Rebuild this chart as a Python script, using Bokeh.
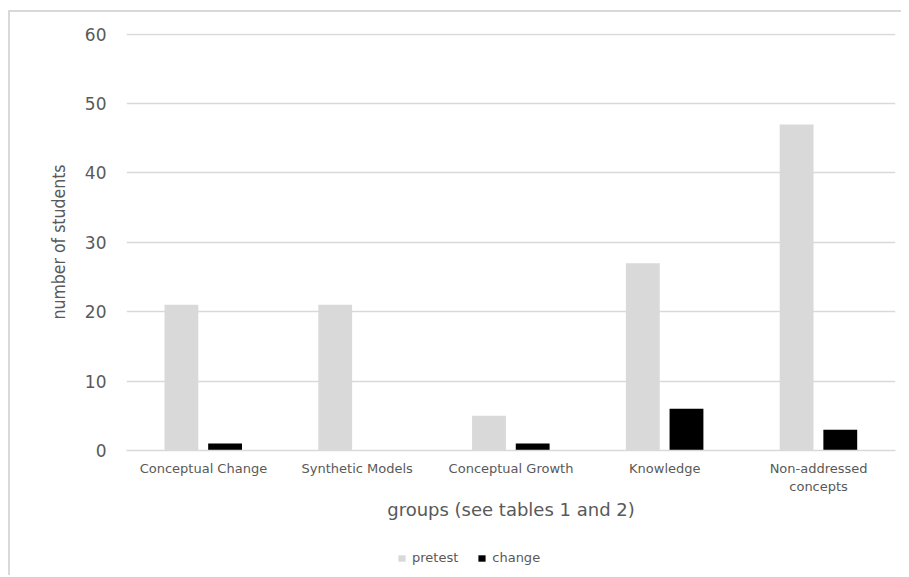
from bokeh.plotting import figure
from bokeh.layouts import column
from bokeh.models import ColumnDataSource, FactorRange, Legend, LegendItem
from bokeh.transform import dodge
from bokeh.embed import file_html
from bokeh.resources import INLINE

groups = ["Conceptual Change", "Synthetic Models", "Conceptual Growth", "Knowledge", "Non-addressed\nconcepts"]
pretest = [21, 21, 5, 27, 47]
change = [1, 0, 1, 6, 3]
y_ticks = [0, 10, 20, 30, 40, 50, 60]
series = ["pretest", "change"]
colors = ["#d9d9d9", "#000000"]

src = ColumnDataSource(dict(groups=groups, pretest=pretest, change=change))

p = figure(x_range=FactorRange(*groups), y_range=(0, 60.1), width=891, height=523,
           output_backend="svg", toolbar_location=None,
           min_border_left=116, min_border_top=21, min_border_right=6, min_border_bottom=85)
p.outline_line_color = None
p.background_fill_color = "white"
p.border_fill_color = "white"

p.vbar(x=dodge("groups", -0.143, range=p.x_range), top="pretest", width=0.22,
       source=src, fill_color=colors[0], line_color=None)
p.vbar(x=dodge("groups", 0.141, range=p.x_range), top="change", width=0.22,
       source=src, fill_color=colors[1], line_color=None)

p.xgrid.grid_line_color = None
p.ygrid.grid_line_color = "#d9d9d9"
p.ygrid.grid_line_width = 1.5
p.yaxis.ticker = y_ticks

for ax in (p.xaxis, p.yaxis):
    ax.major_tick_line_color = None
    ax.minor_tick_line_color = None
    ax.major_label_text_color = "#595959"
    ax.axis_label_text_color = "#595959"
    ax.axis_label_text_font_style = "normal"

p.yaxis.axis_line_color = None
p.yaxis.major_label_text_font = "DejaVu Sans"
p.yaxis.major_label_text_font_size = "17px"
p.yaxis.major_label_standoff = 14
p.yaxis.axis_label = "number of students"
p.yaxis.axis_label_text_font = "DejaVu Sans Condensed"
p.yaxis.axis_label_text_font_size = "17.5px"
p.yaxis.axis_label_standoff = 13

p.xaxis.axis_line_color = "#d9d9d9"
p.xaxis.axis_line_width = 1.5
p.xaxis.major_label_text_font = "DejaVu Sans"
p.xaxis.major_label_text_font_size = "13px"
p.xaxis.major_label_standoff = 4
p.xaxis.axis_label = "groups (see tables 1 and 2)"
p.xaxis.axis_label_text_font = "DejaVu Sans"
p.xaxis.axis_label_text_font_size = "18px"
p.xaxis.axis_label_standoff = 2

# legend strip below the chart (zero-height placeholder bars only carry the colours)
q = figure(width=891, height=40, x_range=(0, 1), y_range=(0, 1),
           output_backend="svg", toolbar_location=None,
           x_axis_location=None, y_axis_location=None, min_border=0)
q.outline_line_color = None
q.background_fill_color = "white"
q.border_fill_color = "white"
q.xgrid.grid_line_color = None
q.ygrid.grid_line_color = None
items = []
for name, c in zip(series, colors):
    r = q.vbar(x=[0.5], top=[0], bottom=0, width=0.01, fill_color=c, line_color=None)
    items.append(LegendItem(label=name, renderers=[r]))
legend = Legend(items=items, orientation="horizontal", location=(271, 10),
                label_text_font="DejaVu Sans", label_text_font_size="13px",
                label_text_color="#595959", glyph_width=9, glyph_height=8,
                label_standoff=6, spacing=19, padding=0, margin=0,
                border_line_color=None, background_fill_alpha=0)
q.add_layout(legend, "center")

layout = column(p, q, spacing=0,
                styles={"border-left": "2px solid #d9d9d9", "border-top": "2px solid #d9d9d9",
                        "margin-left": "8px", "margin-top": "10px"})

open("out.html", "w").write(file_html(layout, INLINE))
